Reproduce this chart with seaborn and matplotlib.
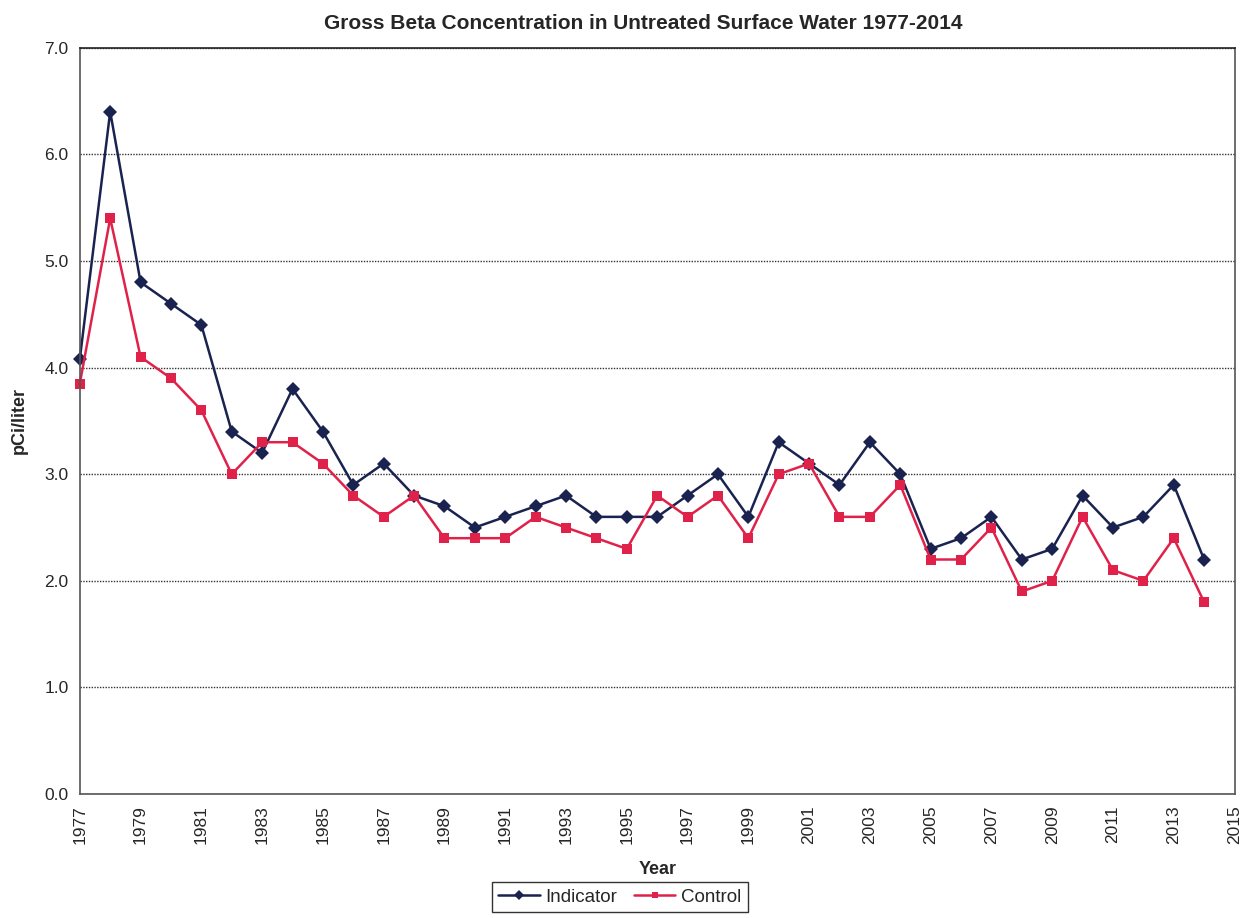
import matplotlib
matplotlib.use("Agg")
import matplotlib.pyplot as plt
import seaborn as sns
import pandas as pd
from matplotlib.lines import Line2D

years = list(range(1977, 2015))
indicator = [4.08, 6.4, 4.8, 4.6, 4.4, 3.4, 3.2, 3.8, 3.4, 2.9, 3.1, 2.8, 2.7, 2.5, 2.6, 2.7,
             2.8, 2.6, 2.6, 2.6, 2.8, 3.0, 2.6, 3.3, 3.1, 2.9, 3.3, 3.0, 2.3, 2.4, 2.6, 2.2,
             2.3, 2.8, 2.5, 2.6, 2.9, 2.2]
control = [3.85, 5.4, 4.1, 3.9, 3.6, 3.0, 3.3, 3.3, 3.1, 2.8, 2.6, 2.8, 2.4, 2.4, 2.4, 2.6,
           2.5, 2.4, 2.3, 2.8, 2.6, 2.8, 2.4, 3.0, 3.1, 2.6, 2.6, 2.9, 2.2, 2.2, 2.5, 1.9,
           2.0, 2.6, 2.1, 2.0, 2.4, 1.8]
xticks = list(range(1977, 2016, 2))
yticks = [0, 1, 2, 3, 4, 5, 6, 7]

sns.set_style("white")
plt.rcParams['font.family'] = ['Liberation Sans', 'DejaVu Sans']

df = pd.DataFrame({"Year": years * 2,
                   "value": indicator + control,
                   "series": ["Indicator"] * len(years) + ["Control"] * len(years)})

fig = plt.figure(figsize=(12.47, 9.18), dpi=100)
ax = fig.add_axes([0.064, 0.135, 0.926, 0.813])

palette = {"Indicator": "#1a2350", "Control": "#e0224a"}
sns.lineplot(data=df, x="Year", y="value", hue="series", style="series",
             markers={"Indicator": "D", "Control": "s"}, dashes=False,
             palette=palette, markersize=7, linewidth=1.8, markeredgewidth=0,
             ax=ax, legend=False)
for ln in ax.lines:
    ln.set_clip_on(False)

ax.set_xlim(1977, 2015)
ax.set_ylim(0, 7)
ax.set_xticks(xticks)
ax.set_xticklabels([str(t) for t in xticks], rotation=90, fontsize=12.5)
ax.set_yticks(yticks)
ax.set_yticklabels([f"{t:.1f}" for t in yticks], fontsize=12.5)
ax.tick_params(axis='both', direction='out', length=5, width=1, color='#555555', pad=3)
ax.yaxis.grid(True, color='#333333', linestyle=(0, (1, 1)), linewidth=1)
ax.set_axisbelow(True)
for s in ax.spines.values():
    s.set_color('#555555')
    s.set_linewidth(1.2)
ax.spines['top'].set_color('#222222')

ax.set_xlabel("Year", fontsize=13, fontweight='bold', labelpad=12)
ax.set_ylabel("pCi/liter", fontsize=13, fontweight='bold', labelpad=12)
fig.suptitle("Gross Beta Concentration in Untreated Surface Water 1977-2014",
             fontsize=15, fontweight='bold', x=0.516, y=0.985)

handles = [Line2D([], [], color=palette["Indicator"], marker="D", markersize=5, lw=1.8, markeredgewidth=0),
           Line2D([], [], color=palette["Control"], marker="s", markersize=5, lw=1.8, markeredgewidth=0)]
leg = fig.legend(handles, ["Indicator", "Control"], loc="lower center", ncol=2,
                 bbox_to_anchor=(0.497, -0.004), fontsize=13.5, frameon=True, fancybox=False,
                 edgecolor='black', handlelength=2.2, handletextpad=0.3, columnspacing=0.9,
                 borderpad=0.35)
leg.get_frame().set_linewidth(1.0)

fig.savefig("out.png", dpi=100)
